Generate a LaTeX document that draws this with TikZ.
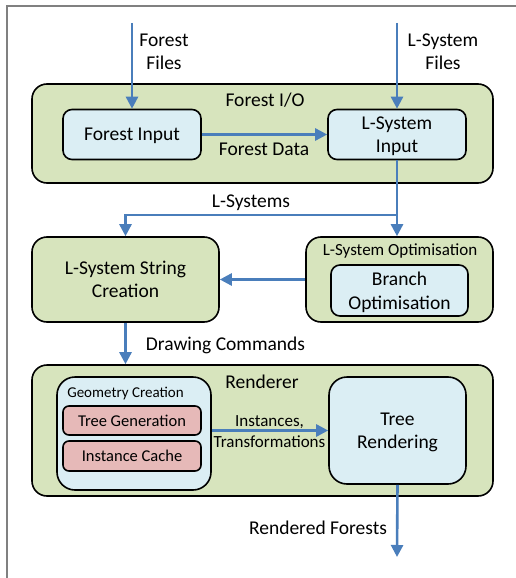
\documentclass[tikz,border=0pt]{standalone}
\usepackage{fontspec}
\setmainfont{Carlito}
\usetikzlibrary{arrows.meta}
\definecolor{boxgreen}{HTML}{D7E4BD}
\definecolor{boxblue}{HTML}{DBEEF4}
\definecolor{boxred}{HTML}{E6B9B8}
\definecolor{arrblue}{HTML}{4A7EBB}
\definecolor{framegray}{HTML}{808080}
\tikzset{
  outerbox/.style={draw=black, line width=1.6pt, fill=boxgreen, rounded corners=15pt, inner sep=0pt, text depth=0pt},
  innerbox/.style={draw=black, line width=1.6pt, fill=boxblue, rounded corners=9pt, inner sep=0pt, align=center, font=\mainfnt, text depth=0pt},
  redbox/.style={draw=black, line width=1.6pt, fill=boxred, rounded corners=6pt, inner sep=0pt, align=center, font=\smallfnt, text depth=0pt},
  arr/.style={draw=arrblue, line width=2.6pt, -{Triangle[length=12pt,width=12pt]}},
  lbl/.style={inner sep=0pt, align=center, font=\mainfnt, text depth=0pt},
  slbl/.style={inner sep=0pt, align=center, font=\smallfnt, text depth=0pt},
}
\newcommand{\mainfnt}{\fontsize{19.5}{23.5}\selectfont}
\newcommand{\smallfnt}{\fontsize{16.5}{21}\selectfont}
\newcommand{\tinyfnt}{\fontsize{15}{18}\selectfont}
\begin{document}
\begin{tikzpicture}[x=1pt,y=-1pt]
\useasboundingbox (0,0) rectangle (516,578);
% frame
\draw[framegray, line width=2pt] (6.5,578) -- (6.5,6) -- (516,6);

% Forest I/O
\node[outerbox, minimum width=461pt, minimum height=99pt] (fio) at (262.5,133.5) {};
\node[lbl] (fiol) at (265,100) {Forest I/O};
\node[innerbox, minimum width=138pt, minimum height=50pt] (fi) at (132,134.5) {Forest Input};
\node[innerbox, minimum width=138pt, minimum height=50pt] (lsi) at (397,134.5) {L-System\\Input};

% middle row
\node[outerbox, minimum width=187pt, minimum height=85pt, align=center, font=\mainfnt] (lsc) at (125.5,279.5) {L-System String\\Creation};
\node[outerbox, minimum width=187pt, minimum height=85pt] (opt) at (399.5,279.5) {};
\node[slbl, font=\fontsize{17}{21}\selectfont] (optl) at (400,249.5) {L-System Optimisation};
\node[innerbox, minimum width=137pt, minimum height=51pt] (bo) at (399.5,290.5) {Branch\\Optimisation};

% Renderer
\node[outerbox, minimum width=461pt, minimum height=131pt] (rend) at (262.5,430.5) {};
\node[lbl] (rendl) at (262,381.5) {Renderer};
\node[draw=black, line width=1.6pt, fill=boxblue, rounded corners=18pt, minimum width=154pt, minimum height=113pt, inner sep=0pt] (geo) at (134,433.5) {};
\node[slbl, font=\tinyfnt] (geol) at (125.5,392.5) {Geometry Creation};
\node[redbox, minimum width=138pt, minimum height=29pt] (tg) at (132,420.5) {Tree Generation};
\node[redbox, minimum width=138pt, minimum height=30pt] (ic) at (132,456) {Instance Cache};
\node[innerbox, rounded corners=18pt, minimum width=137pt, minimum height=107pt] (tr) at (397.5,430.5) {Tree\\Rendering};

% external coordinates
\coordinate (ffs) at (132,23);
\coordinate (lfs) at (397,23);
\coordinate (br) at (397,215);
\coordinate (rfe) at (397,557);

% connectors
\draw[arr] (ffs) -- (fi.north);
\node[lbl] (ffl) at (164,51.5) {Forest\\Files};
\draw[arr] (lfs) -- (lsi.north);
\node[lbl] (lfl) at (443,51.5) {L-System\\Files};

\draw[arr] (fi.east) -- (lsi.west);
\node[lbl] (fdl) at (264,149) {Forest Data};

\draw[arr] (lsi.south) -- (lsi.south |- opt.north);
\draw[arr] (br) -| (lsc.north);
\node[lbl] (lsl) at (251,201) {L-Systems};

\draw[arr] (opt.west) -- (lsc.east);

\draw[arr] (lsc.south) -- (lsc.south |- rend.north);
\node[lbl] (dcl) at (225.5,343.5) {Drawing Commands};

\draw[arr] (geo.east |- tr.west) -- (tr.west);
\node[slbl, font=\fontsize{17}{21}\selectfont] (itl) at (269.5,431.5) {Instances,\\Transformations};

\draw[arr] (tr.south) -- (rfe);
\node[lbl] (rfl) at (318,528) {Rendered Forests};
\end{tikzpicture}
\end{document}
